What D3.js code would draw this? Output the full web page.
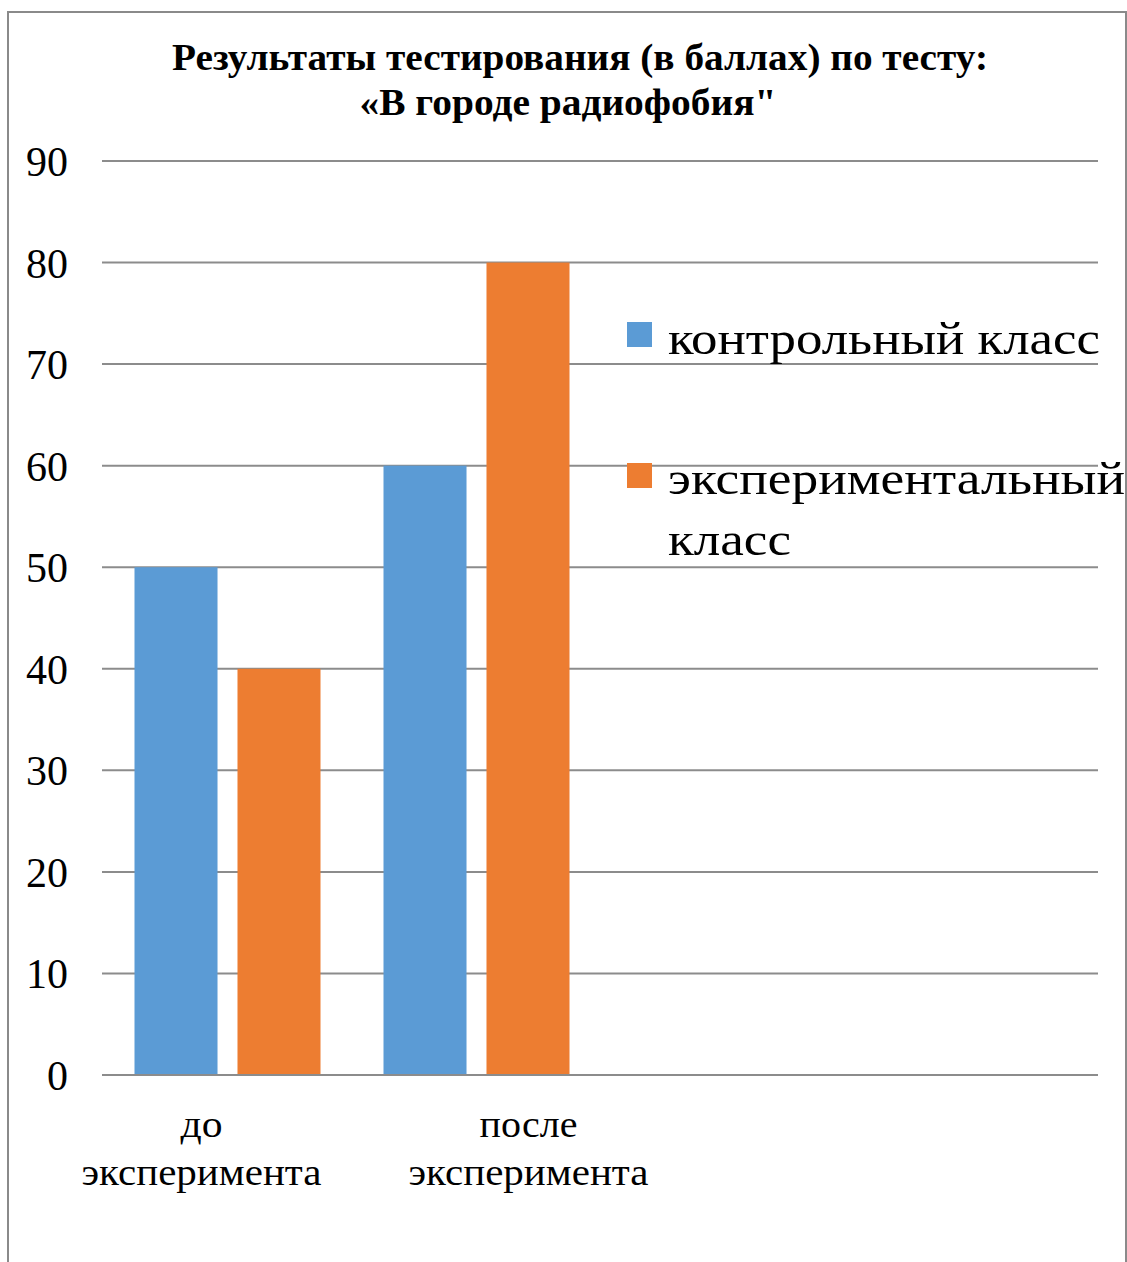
<!DOCTYPE html>
<html>
<head>
<meta charset="utf-8">
<script src="https://cdn.jsdelivr.net/npm/d3@7"></script>
<style>
  body { margin: 0; background: #fff; }
  text { font-family: "Liberation Serif", "Times New Roman", serif; fill: #000; }
</style>
</head>
<body>
<div id="chart"></div>
<script>
// chart data
var categories = ["до эксперимента", "после эксперимента", "", ""];
var categoryLines = [["до", "эксперимента"], ["после", "эксперимента"]];
var seriesNames = ["контрольный класс", "экспериментальный класс"];
var controlValues = [50, 60];
var experimentValues = [40, 80];
var yTicks = [0, 10, 20, 30, 40, 50, 60, 70, 80, 90];
var titleLines = ["Результаты тестирования (в баллах) по тесту:", "«В городе радиофобия\""];

var svgWidth = 1127;
var svgHeight = 1262;

var margin = { top: 161, left: 102, right: 29, bottom: 187 };
var width = svgWidth - margin.left - margin.right;
var height = svgHeight - margin.top - margin.bottom;

var colors = ["#5B9BD5", "#ED7D31"];

var svg = d3.select("#chart")
  .append("svg")
  .attr("width", svgWidth)
  .attr("height", svgHeight);

// outer frame
svg.append("path")
  .attr("d", "M8,1262 L8,12 L1126,12 L1126,1262")
  .attr("fill", "none")
  .attr("stroke", "#8a8a8a")
  .attr("stroke-width", 2);

// title
svg.selectAll(".title")
  .data(titleLines)
  .enter()
  .append("text")
  .attr("class", "title")
  .attr("x", (d, i) => i == 0 ? 580 : 568)
  .attr("y", (d, i) => 70 + i * 45)
  .attr("text-anchor", "middle")
  .attr("font-weight", "bold")
  .attr("font-size", 37)
  .attr("textLength", (d, i) => i == 0 ? 816 : 417)
  .attr("lengthAdjust", "spacingAndGlyphs")
  .text(d => d);

var chartGroup = svg.append("g")
  .attr("transform", `translate(${margin.left}, ${margin.top})`);

var xScale = d3.scaleBand()
  .domain(d3.range(categories.length))
  .range([0, width])
  .paddingInner(0)
  .paddingOuter(0);

var yScale = d3.scaleLinear()
  .domain([0, 90])
  .range([height, 0]);

// gridlines
chartGroup.selectAll(".grid")
  .data(yTicks)
  .enter()
  .append("line")
  .attr("x1", 0)
  .attr("x2", width)
  .attr("y1", d => yScale(d))
  .attr("y2", d => yScale(d))
  .attr("stroke", "#8c8c8c")
  .attr("stroke-width", 2);

// y labels
chartGroup.selectAll(".ylab")
  .data(yTicks)
  .enter()
  .append("text")
  .attr("x", -34)
  .attr("y", d => yScale(d) + 15)
  .attr("text-anchor", "end")
  .attr("font-size", 42)
  .text(d => d);

// bars
var groupScale = d3.scaleBand()
  .domain([0, 1])
  .range([32.5, xScale.bandwidth() - 30.5])
  .paddingInner(0.194);

var seriesData = [controlValues, experimentValues];
seriesData.forEach(function(values, s) {
  chartGroup.selectAll(".bar" + s)
    .data(values)
    .enter()
    .append("rect")
    .attr("x", (d, i) => xScale(i) + groupScale(s))
    .attr("y", d => yScale(d))
    .attr("width", groupScale.bandwidth())
    .attr("height", d => height - yScale(d))
    .attr("fill", colors[s]);
});

// redraw base line on top
chartGroup.append("line")
  .attr("x1", 0).attr("x2", width)
  .attr("y1", yScale(0)).attr("y2", yScale(0))
  .attr("stroke", "#8c8c8c")
  .attr("stroke-width", 2);

// x labels
var labelShift = [-25, 53];
var labelLengths = [[42, 240], [98, 240]];
categoryLines.forEach(function(lines, i) {
  chartGroup.selectAll(".xlab" + i)
    .data(lines)
    .enter()
    .append("text")
    .attr("text-anchor", "middle")
    .attr("font-size", 38)
    .attr("x", xScale(i) + xScale.bandwidth() / 2 + labelShift[i])
    .attr("y", (d, j) => height + 62 + j * 48)
    .attr("textLength", (d, j) => labelLengths[i][j])
    .attr("lengthAdjust", "spacingAndGlyphs")
    .text(d => d);
});

// legend
var legend = svg.append("g").attr("transform", "translate(627, 0)");
legend.append("rect").attr("x", 0).attr("y", 322).attr("width", 25).attr("height", 25).attr("fill", colors[0]);
legend.append("rect").attr("x", 0).attr("y", 463).attr("width", 25).attr("height", 25).attr("fill", colors[1]);
legend.append("text").attr("x", 41).attr("y", 354).attr("font-size", 46)
  .attr("textLength", 432).attr("lengthAdjust", "spacingAndGlyphs")
  .text(seriesNames[0]);
var legendLines = ["экспериментальный", "класс"];
var legendLengths = [457, 123];
legend.selectAll(".leg2")
  .data(legendLines)
  .enter()
  .append("text")
  .attr("font-size", 46)
  .attr("x", 41)
  .attr("y", (d, i) => 494 + i * 61)
  .attr("textLength", (d, i) => legendLengths[i])
  .attr("lengthAdjust", "spacingAndGlyphs")
  .text(d => d);
</script>
</body>
</html>
